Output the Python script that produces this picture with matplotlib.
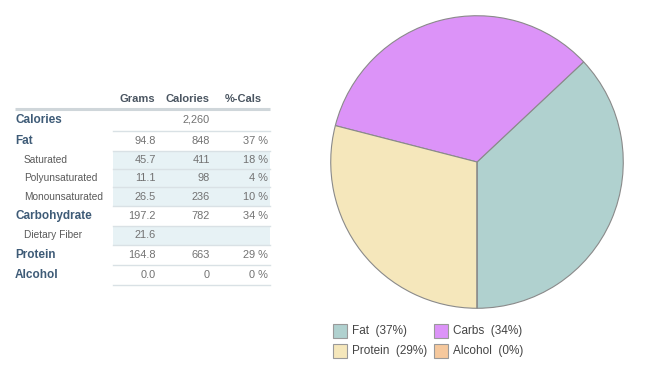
import matplotlib.pyplot as plt
from matplotlib.patches import Rectangle

plt.rcParams['font.family'] = ['Liberation Sans', 'DejaVu Sans']

# table data
row_labels = ["Calories", "Fat", "Saturated", "Polyunsaturated", "Monounsaturated",
              "Carbohydrate", "Dietary Fiber", "Protein", "Alcohol"]
is_sub = [False, False, True, True, True, False, True, False, False]
grams = ["", "94.8", "45.7", "11.1", "26.5", "197.2", "21.6", "164.8", "0.0"]
calories = ["2,260", "848", "411", "98", "236", "782", "", "663", "0"]
pct_cals = ["", "37 %", "18 %", "4 %", "10 %", "34 %", "", "29 %", "0 %"]
headers = ["Grams", "Calories", "%-Cals"]

# pie data
pie_labels = ["Fat", "Carbs", "Protein", "Alcohol"]
pie_pct = [37, 34, 29, 0]
pie_colors = ["#b0d1cf", "#dc93f8", "#f5e7bb", "#f5c89d"]

fig = plt.figure(figsize=(6.49, 3.73), dpi=100)

# --- table, drawn in pixel coordinates ---
ax = fig.add_axes([0, 0, 1, 1])
ax.set_xlim(0, 649)
ax.set_ylim(373, 0)
ax.axis("off")

bounds = [109, 131, 151, 169, 187, 206, 226, 245, 265, 285]
col_right = [156, 210, 268]
label_col = "#3e5b77"
num_col = "#727272"

for x, h in zip([137, 187, 243], headers):
    ax.text(x, 99, h, ha="center", va="center", fontsize=8, color="#4a5561",
            fontweight="bold")
ax.plot([15, 270], [bounds[0], bounds[0]], color="#cfd6da", lw=2.2, solid_capstyle="butt")

for i, lab in enumerate(row_labels):
    top, bot = bounds[i], bounds[i + 1]
    mid = (top + bot) / 2
    if is_sub[i]:
        ax.add_patch(Rectangle((113, top), 157, bot - top, color="#e7f2f5", lw=0))
        ax.text(24, mid, lab, ha="left", va="center", fontsize=7.3, color="#5a5a5a")
    else:
        ax.text(15, mid, lab, ha="left", va="center", fontsize=8.5, color=label_col,
                fontweight="bold")
    ax.plot([113, 270], [bot, bot], color="#d9e1e5", lw=1)
    for x, v in zip(col_right, [grams[i], calories[i], pct_cals[i]]):
        ax.text(x, mid, v, ha="right", va="center", fontsize=7.9, color=num_col)

# --- legend boxes ---
leg_pos = [(333, 331), (434, 331), (333, 351), (434, 351)]
for (x, y), lab, p, c in zip(leg_pos, pie_labels, pie_pct, pie_colors):
    ax.add_patch(Rectangle((x, y - 7), 14, 14, facecolor=c, edgecolor="#9a9a9a", lw=0.8))
    ax.text(x + 19, y, f"{lab}  ({p}%)", ha="left", va="center", fontsize=8.5,
            color="#444444")

# --- pie ---
cx, cy, r = 477, 162, 147
pax = fig.add_axes([(cx - r) / 649, (373 - cy - r) / 373, 2 * r / 649, 2 * r / 373])
pax.pie(pie_pct, colors=pie_colors, startangle=-90, counterclock=True,
        wedgeprops=dict(edgecolor="#8a8a8a", linewidth=0.8))
pax.set_xlim(-1.005, 1.005)
pax.set_ylim(-1.005, 1.005)
pax.axis("off")

fig.savefig("out.png", dpi=100)
